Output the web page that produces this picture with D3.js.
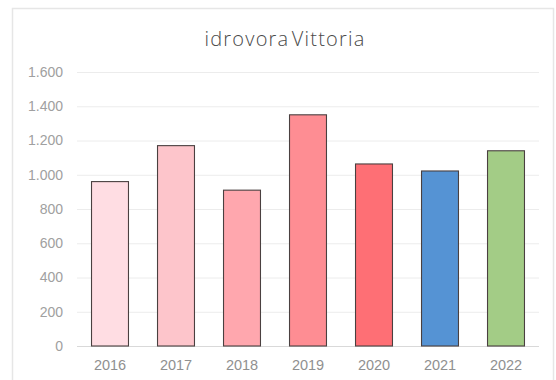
<!DOCTYPE html>
<html>
<head>
<meta charset="utf-8">
<script src="https://cdn.jsdelivr.net/npm/d3@7"></script>
<style>
  html, body { margin: 0; padding: 0; background: #fff; }
  svg { display: block; }
</style>
</head>
<body>
<svg id="chart" width="556" height="380"></svg>
<script>
// Annual figures for the Vittoria pumping station
const years = ["2016", "2017", "2018", "2019", "2020", "2021", "2022"];
const values = [960, 1170, 910, 1350, 1063, 1022, 1140];
const barColors = ["#ffdde3", "#fdc5cb", "#ffa7ae", "#fe8d93", "#fe6f75", "#5593d4", "#a3cc86"];
const yTicks = [0, 200, 400, 600, 800, 1000, 1200, 1400, 1600];
const chartTitle = "idrovora Vittoria";

const svg = d3.select("#chart");
const W = 556, H = 380;
const margin = { left: 77, right: 17, top: 72, bottom: 34 };
const labelFont = "'Liberation Sans', Arial, sans-serif";

// outer frame
svg.append("rect")
  .attr("x", 12.5).attr("y", 8.5)
  .attr("width", 541).attr("height", 380)
  .attr("fill", "#fff")
  .attr("stroke", "#e6e6e6")
  .attr("stroke-width", 1.5);

const x = d3.scaleBand()
  .domain(years)
  .range([margin.left, W - margin.right])
  .paddingInner(0.44)
  .paddingOuter(0.22);

const y = d3.scaleLinear()
  .domain([0, 1600])
  .range([H - margin.bottom, margin.top]);

// horizontal gridlines + y labels
const yAxis = d3.axisLeft(y)
  .tickValues(yTicks)
  .tickSize(-(W - margin.left - margin.right))
  .tickPadding(14)
  .tickFormat(d => d3.format(",")(d).replace(/,/g, "."));

const gy = svg.append("g")
  .attr("transform", `translate(${margin.left},0)`)
  .call(yAxis);
gy.select(".domain").remove();
gy.selectAll(".tick line")
  .attr("stroke", d => d === 0 ? "#d9d9d9" : "#ececec")
  .attr("stroke-width", 1);
gy.selectAll(".tick text")
  .attr("fill", "#a0a0a0")
  .style("font-family", labelFont)
  .style("font-size", "14px");

// x labels
const xAxis = d3.axisBottom(x).tickSize(0).tickPadding(14);
const gx = svg.append("g")
  .attr("transform", `translate(0,${H - margin.bottom})`)
  .call(xAxis);
gx.select(".domain").remove();
gx.selectAll(".tick text")
  .attr("fill", "#909090")
  .style("font-family", labelFont)
  .style("font-size", "14.5px");

// bars
svg.append("g")
  .selectAll("rect")
  .data(years)
  .join("rect")
  .attr("x", d => x(d))
  .attr("width", x.bandwidth())
  .attr("y", (d, i) => y(values[i]))
  .attr("height", (d, i) => y(0) - y(values[i]))
  .attr("fill", (d, i) => barColors[i])
  .attr("stroke", "#4a4040")
  .attr("stroke-width", 1.1);

// title
svg.append("text")
  .attr("x", 285)
  .attr("y", 46)
  .attr("text-anchor", "middle")
  .attr("fill", "#4a4a4a")
  .style("font-family", "'Open Sans', 'Liberation Sans', sans-serif")
  .style("font-weight", 300)
  .style("font-size", "20px")
  .style("letter-spacing", "1.2px")
  .style("word-spacing", "-4px")
  .text(chartTitle);
</script>
</body>
</html>
